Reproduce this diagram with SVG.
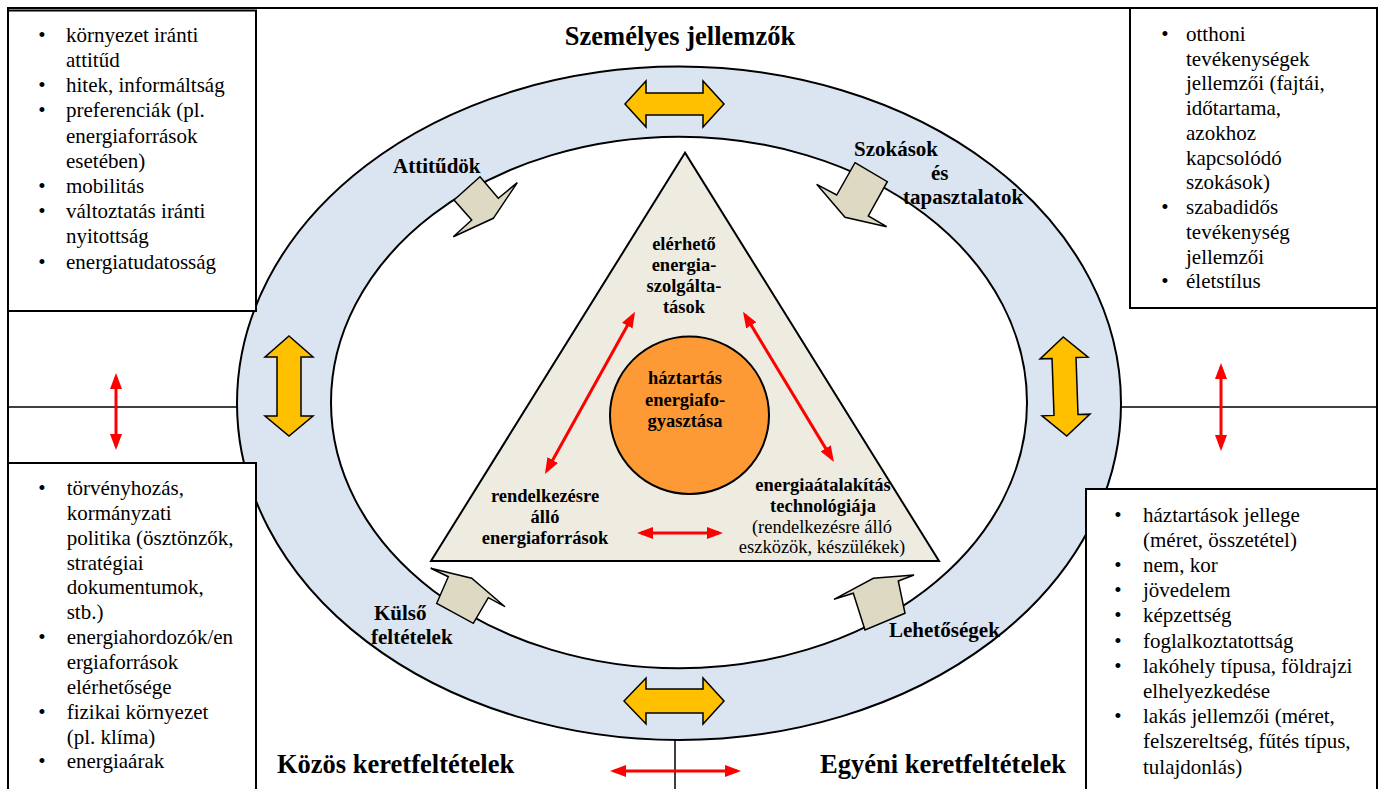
<svg xmlns="http://www.w3.org/2000/svg" width="1384" height="789" viewBox="0 0 1384 789">
<style>
text{font-family:"Liberation Serif","Times New Roman",serif;fill:#000}
.li{font-size:21px}
.b{font-weight:bold}
.t{font-size:18.5px;font-weight:bold;text-anchor:middle}
.tn{font-size:18.5px;text-anchor:middle}
.lbl{font-size:21px;font-weight:bold}
.ttl{font-size:26.5px;font-weight:bold}
.box{fill:#fff;stroke:#000;stroke-width:2}
.frame{fill:none;stroke:#000;stroke-width:2}
.yel{fill:#FFC000;stroke:#000;stroke-width:1.5;stroke-linejoin:miter}
.bei{fill:#DDD9C3;stroke:#000;stroke-width:1.5;stroke-linejoin:miter}
.red{stroke:#FF0000;stroke-width:3;fill:none;marker-start:url(#rh);marker-end:url(#rh)}
.bul{font-size:21px;text-anchor:middle}
</style>
<defs>
<marker id="rh" viewBox="0 0 16 12" refX="12" refY="6" markerWidth="16" markerHeight="12" markerUnits="userSpaceOnUse" orient="auto-start-reverse">
<path d="M0,0 L16,6 L0,12 Z" fill="#FF0000"/>
</marker>
</defs>

<g id="frame">
<path class="frame" d="M8,789 V8 H1377 V789"/>
<line x1="8" y1="407" x2="240" y2="407" stroke="#000" stroke-width="1.5"/>
<line x1="1118" y1="407" x2="1377" y2="407" stroke="#000" stroke-width="1.5"/>
<line x1="675" y1="738" x2="675" y2="789" stroke="#000" stroke-width="1.5"/>
</g>

<g id="ring">
<ellipse cx="679" cy="403.3" rx="442" ry="336.7" fill="#DBE5F1" stroke="#000" stroke-width="2"/>
<ellipse cx="679" cy="402.5" rx="348" ry="265.8" fill="#fff" stroke="#000" stroke-width="2"/>
</g>

<g id="box-top-left">
<rect class="box" x="8" y="10.5" width="248" height="300.5"/>
<text class="bul" x="42" y="41.7">•</text>
<text class="li" x="66" y="41.7">környezet iránti</text>
<text class="li" x="66" y="66.9">attitűd</text>
<text class="bul" x="42" y="92.1">•</text>
<text class="li" x="66" y="92.1">hitek, informáltság</text>
<text class="bul" x="42" y="117.3">•</text>
<text class="li" x="66" y="117.3">preferenciák (pl.</text>
<text class="li" x="66" y="142.5">energiaforrások</text>
<text class="li" x="66" y="167.7">esetében)</text>
<text class="bul" x="42" y="192.9">•</text>
<text class="li" x="66" y="192.9">mobilitás</text>
<text class="bul" x="42" y="218.1">•</text>
<text class="li" x="66" y="218.1">változtatás iránti</text>
<text class="li" x="66" y="243.3">nyitottság</text>
<text class="bul" x="42" y="268.5">•</text>
<text class="li" x="66" y="268.5">energiatudatosság</text>
</g>

<g id="box-top-right">
<rect class="box" x="1130" y="8" width="247" height="300"/>
<text class="bul" x="1165" y="40.7">•</text>
<text class="li" x="1186" y="40.7">otthoni</text>
<text class="li" x="1186" y="65.5">tevékenységek</text>
<text class="li" x="1186" y="90.2">jellemzői (fajtái,</text>
<text class="li" x="1186" y="115">időtartama,</text>
<text class="li" x="1186" y="139.7">azokhoz</text>
<text class="li" x="1186" y="164.5">kapcsolódó</text>
<text class="li" x="1186" y="189.3">szokások)</text>
<text class="bul" x="1165" y="214">•</text>
<text class="li" x="1186" y="214">szabadidős</text>
<text class="li" x="1186" y="238.8">tevékenység</text>
<text class="li" x="1186" y="263.5">jellemzői</text>
<text class="bul" x="1165" y="288.3">•</text>
<text class="li" x="1186" y="288.3">életstílus</text>
</g>

<g id="box-bottom-left">
<rect class="box" x="8" y="463" width="248" height="330"/>
<text class="bul" x="42" y="495">•</text>
<text class="li" x="66.7" y="495">törvényhozás,</text>
<text class="li" x="66.7" y="519.8">kormányzati</text>
<text class="li" x="66.7" y="544.7">politika (ösztönzők,</text>
<text class="li" x="66.7" y="569.5">stratégiai</text>
<text class="li" x="66.7" y="594.4">dokumentumok,</text>
<text class="li" x="66.7" y="619.2">stb.)</text>
<text class="bul" x="42" y="644.1">•</text>
<text class="li" x="66.7" y="644.1">energiahordozók/en</text>
<text class="li" x="66.7" y="668.9">ergiaforrások</text>
<text class="li" x="66.7" y="693.8">elérhetősége</text>
<text class="bul" x="42" y="718.6">•</text>
<text class="li" x="66.7" y="718.6">fizikai környezet</text>
<text class="li" x="66.7" y="743.5">(pl. klíma)</text>
<text class="bul" x="42" y="768.3">•</text>
<text class="li" x="66.7" y="768.3">energiaárak</text>
</g>

<g id="box-bottom-right">
<rect class="box" x="1086" y="489" width="291" height="304"/>
<text class="bul" x="1118" y="521.5">•</text>
<text class="li" x="1143" y="521.5">háztartások jellege</text>
<text class="li" x="1143" y="546.7">(méret, összetétel)</text>
<text class="bul" x="1118" y="571.9">•</text>
<text class="li" x="1143" y="571.9">nem, kor</text>
<text class="bul" x="1118" y="597.1">•</text>
<text class="li" x="1143" y="597.1">jövedelem</text>
<text class="bul" x="1118" y="622.3">•</text>
<text class="li" x="1143" y="622.3">képzettség</text>
<text class="bul" x="1118" y="647.5">•</text>
<text class="li" x="1143" y="647.5">foglalkoztatottság</text>
<text class="bul" x="1118" y="672.7">•</text>
<text class="li" x="1143" y="672.7">lakóhely típusa, földrajzi</text>
<text class="li" x="1143" y="697.9">elhelyezkedése</text>
<text class="bul" x="1118" y="723.1">•</text>
<text class="li" x="1143" y="723.1">lakás jellemzői (méret,</text>
<text class="li" x="1143" y="748.3">felszereltség, fűtés típus,</text>
<text class="li" x="1143" y="773.5">tulajdonlás)</text>
</g>

<g id="title-szemelyes">
<text class="ttl" x="680" y="45" text-anchor="middle">Személyes jellemzők</text>
</g>
<g id="title-kozos">
<text class="ttl" x="277" y="773">Közös keretfeltételek</text>
</g>
<g id="title-egyeni">
<text class="ttl" x="820" y="773">Egyéni keretfeltételek</text>
</g>

<g id="triangle">
<polygon points="685,152.7 431,561 939,561" fill="#EEECE1" stroke="#000" stroke-width="2"/>
<text class="t" x="684" y="250">elérhető</text>
<text class="t" x="684" y="271">energia-</text>
<text class="t" x="684" y="292">szolgálta-</text>
<text class="t" x="684" y="313">tások</text>
<text class="t" x="545" y="501.7">rendelkezésre</text>
<text class="t" x="545" y="523">álló</text>
<text class="t" x="545" y="544.3">energiaforrások</text>
<text class="t" x="823" y="490.7">energiaátalakítás</text>
<text class="t" x="823" y="511.7">technológiája</text>
<text class="tn" x="822" y="532.7">(rendelkezésre álló</text>
<text class="tn" x="822" y="553.3">eszközök, készülékek)</text>
</g>

<g id="center-circle">
<ellipse cx="689.5" cy="415.3" rx="79.5" ry="78.7" fill="#FD9A36" stroke="#000" stroke-width="2"/>
<text class="t" x="685" y="384">háztartás</text>
<text class="t" x="685" y="405.5">energiafo-</text>
<text class="t" x="685" y="426.8">gyasztása</text>
</g>

<g id="label-attitudok">
<text class="lbl" x="393" y="172.7">Attitűdök</text>
</g>
<g id="label-szokasok">
<text class="lbl" x="854" y="156">Szokások</text>
<text class="lbl" x="931" y="180">és</text>
<text class="lbl" x="903" y="204">tapasztalatok</text>
</g>
<g id="label-kulso">
<text class="lbl" x="374" y="620">Külső</text>
<text class="lbl" x="371" y="644">feltételek</text>
</g>
<g id="label-lehetosegek">
<text class="lbl" x="889" y="637">Lehetőségek</text>
</g>

<g id="connectors">
<path class="yel" d="M625,104 L646,81 L646,93 L703,93 L703,81 L724,104 L703,127 L703,115 L646,115 L646,127 Z"/>
<path class="yel" d="M624,701 L646,678 L646,689 L703,689 L703,678 L724,701 L703,724 L703,713 L646,713 L646,724 Z"/>
<path class="yel" d="M289,336 L313,357 L301,357 L301,416 L313,416 L289,436 L265,416 L277,416 L277,357 L265,357 Z"/>
<path class="yel" transform="rotate(-2 1065 386)" d="M1065,337 L1089,358 L1077,358 L1077,415 L1089,415 L1065,436 L1041,415 L1053,415 L1053,358 L1041,358 Z"/>

<polygon class="bei" points="480,176.7 498.3,198.3 517.3,182.7 493.3,218.3 453.3,236.7 471.7,220 454,200"/>
<polygon class="bei" points="855,162.7 887.3,181.7 868.3,216 886.7,226.7 845,217.3 816.7,184.3 836.7,195"/>
<polygon class="bei" points="430.7,568.3 471.7,578.3 505,606.7 488.3,597.7 473.3,623.3 436.7,603.3 448.3,576.7"/>
<polygon class="bei" points="834,599.3 873.3,578.3 914,575 898.3,581 905,613.3 865,630 853.3,593.3"/>

<line class="red" x1="633.1" y1="315.2" x2="546.9" y2="470.5"/>
<line class="red" x1="745.1" y1="315.1" x2="831.9" y2="458.6"/>
<line class="red" x1="641" y1="533" x2="719" y2="533"/>
<line class="red" x1="116" y1="377" x2="116" y2="446"/>
<line class="red" x1="1221" y1="367" x2="1221" y2="447"/>
<line class="red" x1="614" y1="771" x2="737" y2="771"/>
</g>
</svg>
